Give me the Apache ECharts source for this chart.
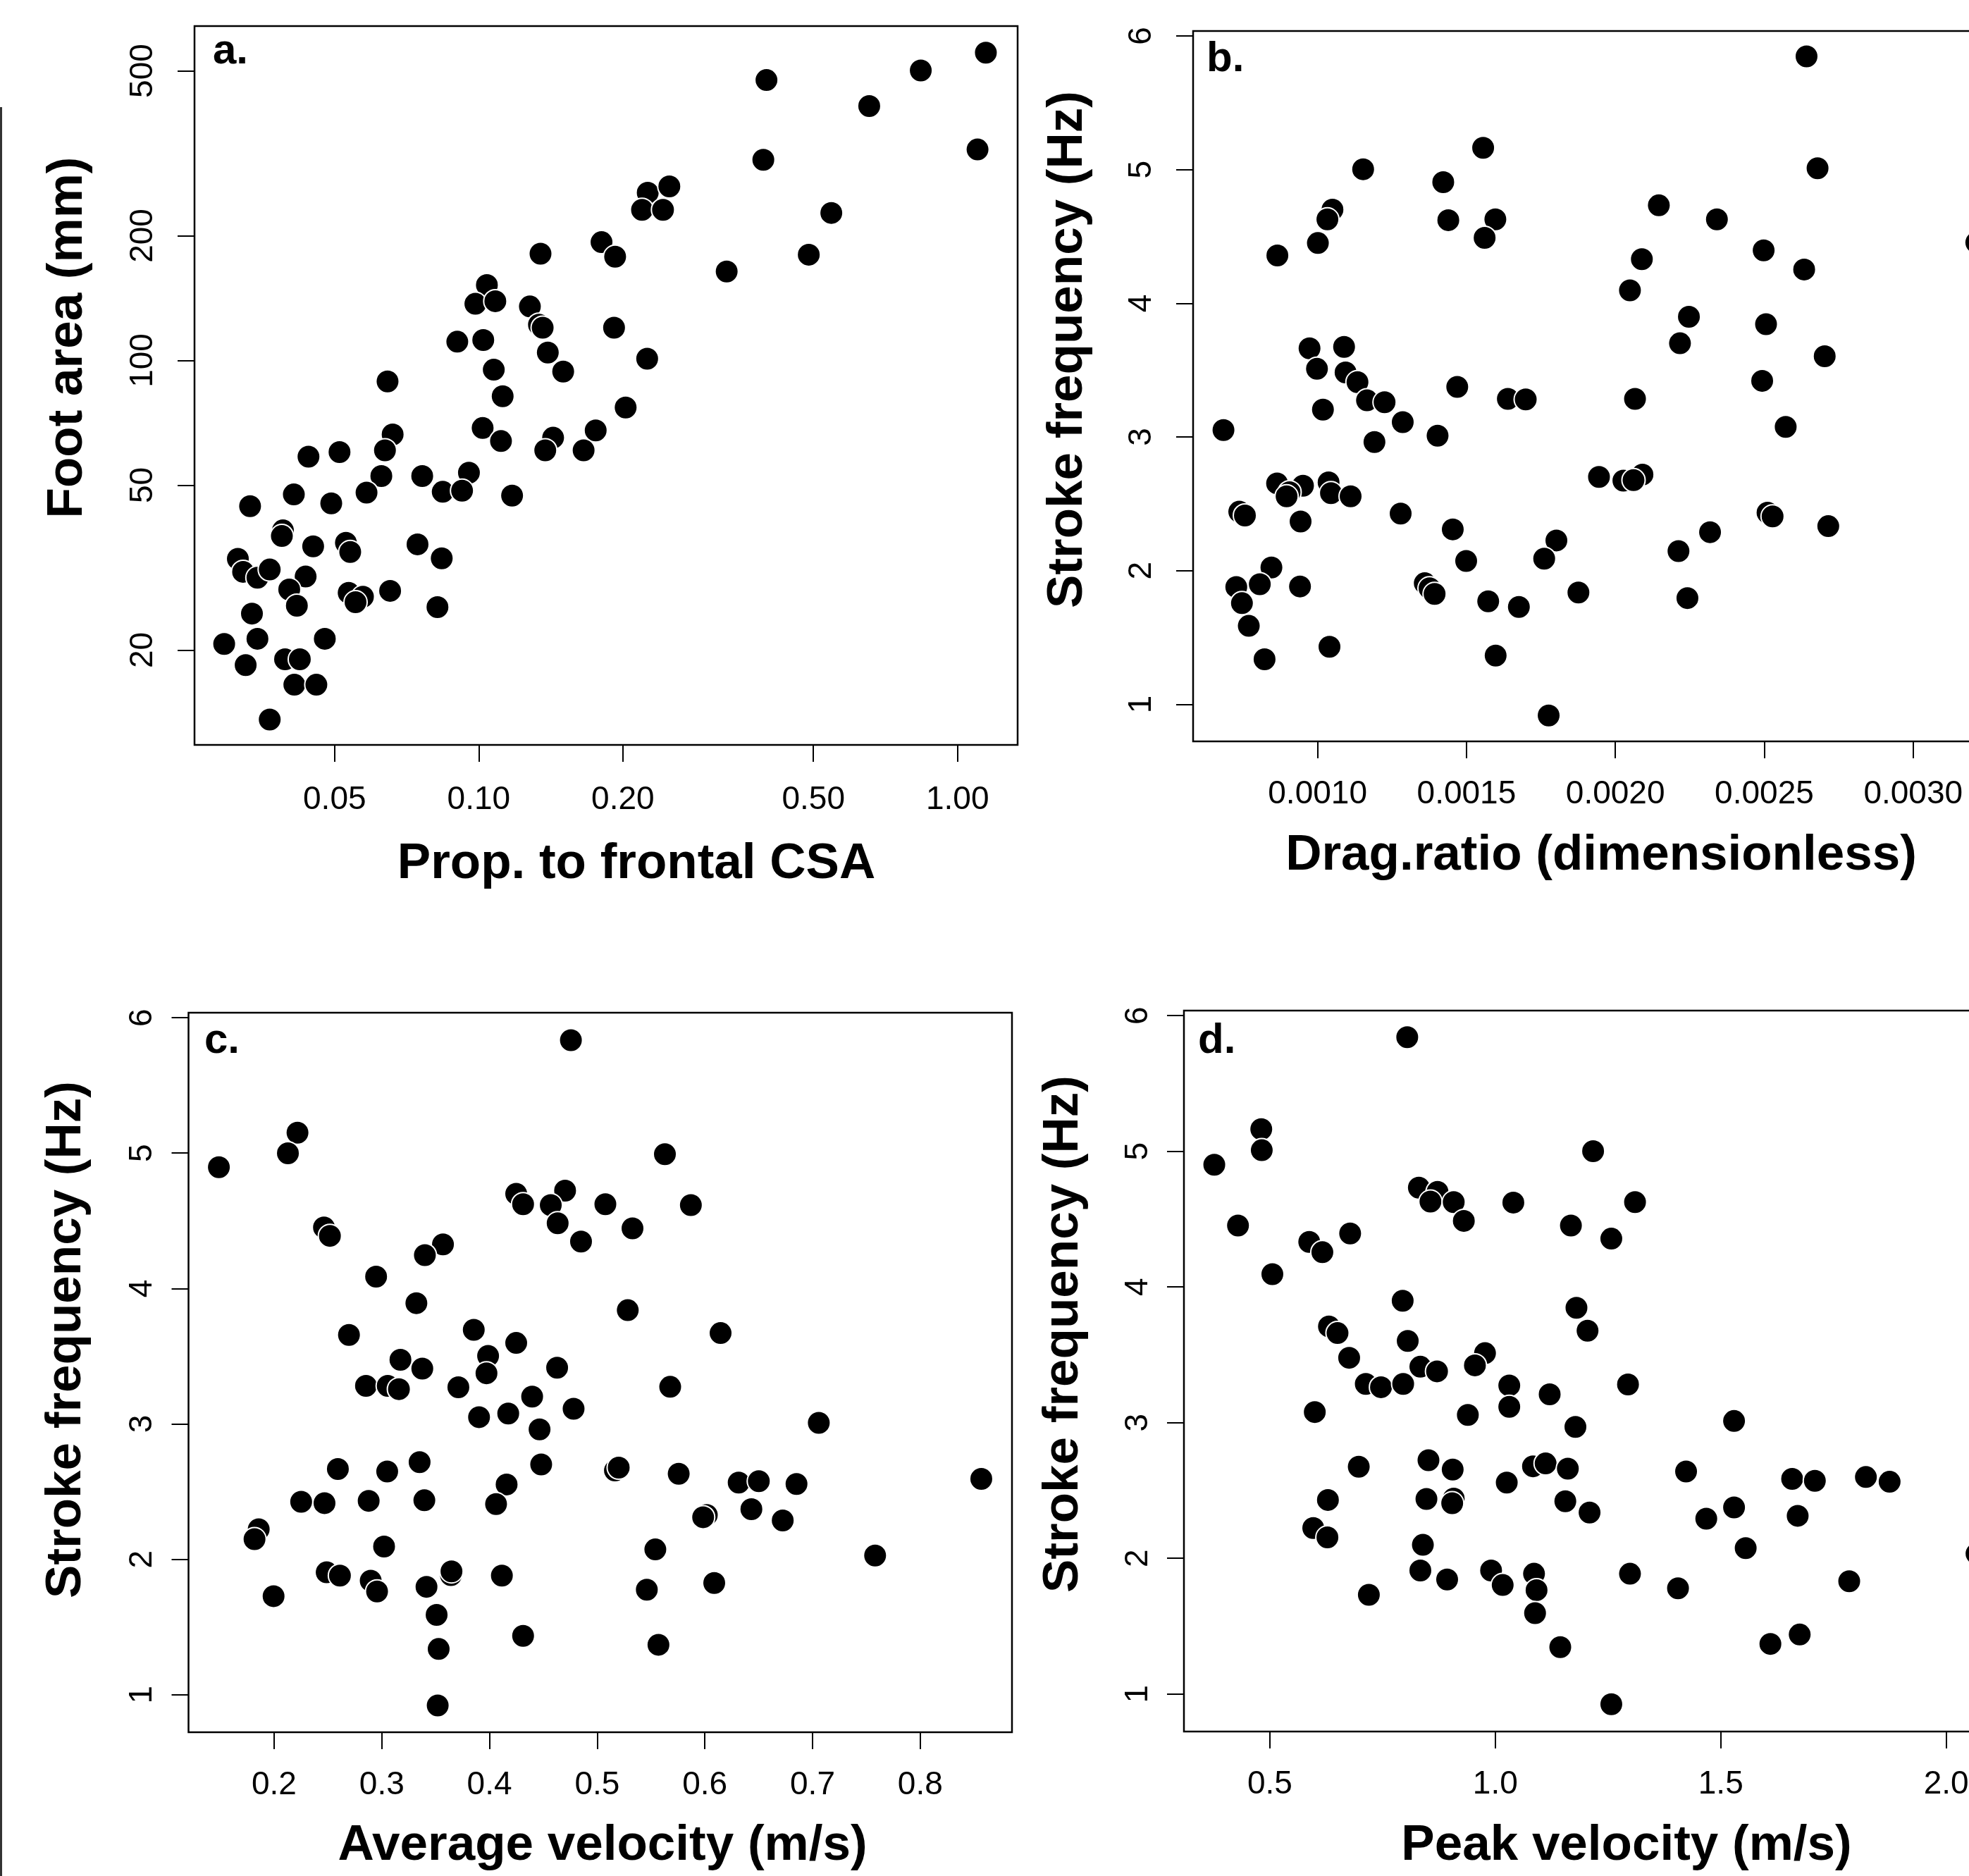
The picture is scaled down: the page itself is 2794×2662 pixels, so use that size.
<!DOCTYPE html>
<html><head><meta charset="utf-8">
<script src="https://cdn.jsdelivr.net/npm/echarts@6/dist/echarts.min.js"></script>
<style>html,body{margin:0;padding:0;background:#fff}#c{width:2794px;height:2662px}</style>
</head><body><div id="c"></div>
<script>
// ---------- Panel a: foot area vs prop. to frontal CSA (log-log) ----------
const aX = [0.399,0.838,1.146,0.654,0.393,1.101,0.2254,0.2501,0.2193,0.2426,0.545,0.1805,0.1927,0.1346,0.489,0.3295,0.1040,0.0984,0.1083,0.1279,0.1336,0.1360,0.1917,0.0902,0.1022,0.1394,0.2248,0.1075,0.1501,0.0645,0.1122,0.2027,0.1019,0.1113,0.0661,0.0637,0.1430,0.1377,0.1755,0.1656,0.0441,0.0512,0.0762,0.0954,0.0626,0.0583,0.0841,0.0923,0.1174,0.0411,0.0492,0.0333,0.0390,0.0388,0.0451,0.0528,0.0539,0.0745,0.0837,0.0314,0.0322,0.0345,0.0366,0.0435,0.0402,0.0417,0.0535,0.0573,0.0553,0.0653,0.0820,0.0336,0.0345,0.0294,0.0326,0.0477,0.0394,0.0423,0.0412,0.0458,0.0366];
const aY = [475,501,553,411,305,323,254,263,231,231,227,193,178,181,180,164,152,137,139,135,122,120,120,111,112,104.5,101,95,94,89,82,77,68.7,63.9,66.3,60.7,65.1,60.7,67.8,60.7,58.6,60.1,52.6,53.6,52.6,48.0,48.2,48.5,47.2,47.5,45.2,44.5,38.9,37.7,35.6,36.3,34.5,36.0,33.3,33.2,30.9,29.9,31.3,30.1,28.0,25.6,27.5,26.9,26.1,27.8,25.4,24.5,21.3,20.7,18.4,21.3,19.0,19.0,16.5,16.5,13.6];

// ---------- Panel b: stroke frequency vs drag ratio ----------
const bX = [0.002642,0.001556,0.001153,0.002679,0.001422,0.001050,0.001033,0.001439,0.001597,0.001561,0.002146,0.002341,0.001001,0.000865,0.002498,0.002089,0.002634,0.003212,0.002049,0.002247,0.002506,0.002217,0.002703,0.000973,0.001089,0.000998,0.001094,0.001134,0.002493,0.001469,0.001166,0.001225,0.001639,0.001699,0.002066,0.001018,0.001286,0.000684,0.001403,0.001191,0.002572,0.001945,0.002027,0.002091,0.002061,0.000864,0.000951,0.000906,0.000896,0.001037,0.001045,0.001111,0.000737,0.000756,0.001279,0.000943,0.002511,0.002528,0.002715,0.001454,0.002318,0.001802,0.001761,0.002212,0.001499,0.000845,0.000727,0.000806,0.000941,0.001360,0.001376,0.001393,0.000746,0.001573,0.001676,0.001876,0.002242,0.000769,0.001040,0.000822,0.001598,0.001776];
const bY = [5.847,5.163,5.003,5.010,4.906,4.701,4.628,4.622,4.628,4.490,4.733,4.628,4.451,4.358,4.396,4.330,4.253,4.455,4.097,3.899,3.844,3.701,3.604,3.663,3.674,3.510,3.483,3.410,3.420,3.375,3.274,3.260,3.285,3.281,3.285,3.205,3.111,3.052,3.010,2.962,3.076,2.701,2.674,2.719,2.677,2.653,2.635,2.587,2.556,2.660,2.580,2.556,2.441,2.413,2.427,2.368,2.434,2.406,2.333,2.309,2.288,2.226,2.090,2.146,2.073,2.024,1.878,1.899,1.882,1.906,1.868,1.826,1.757,1.771,1.729,1.837,1.795,1.587,1.431,1.337,1.365,0.917];

// ---------- Panel c: stroke frequency vs average velocity ----------
const cX = [0.4756,0.2217,0.2128,0.1487,0.5629,0.4248,0.4312,0.4702,0.4569,0.4633,0.5076,0.5870,0.5328,0.4850,0.2463,0.2518,0.3568,0.3400,0.2947,0.3321,0.5284,0.6146,0.2695,0.3854,0.4248,0.3173,0.3376,0.3987,0.3972,0.4628,0.2853,0.3055,0.3159,0.3711,0.4396,0.5678,0.3903,0.4174,0.4781,0.4465,0.7058,0.2592,0.3050,0.3351,0.4480,0.5165,0.5200,0.5757,0.6314,0.6501,0.6851,0.8567,0.2251,0.2468,0.2878,0.3395,0.4159,0.4061,0.6018,0.5984,0.6432,0.6723,0.1857,0.1818,0.3021,0.5540,0.7581,0.2488,0.2611,0.2897,0.2956,0.3415,0.3642,0.3647,0.4115,0.5461,0.6087,0.1995,0.3509,0.4312,0.3528,0.5569,0.3519];
const cY = [5.834,5.151,4.999,4.896,4.992,4.699,4.623,4.723,4.616,4.482,4.623,4.616,4.444,4.347,4.451,4.389,4.326,4.247,4.088,3.892,3.840,3.671,3.657,3.695,3.598,3.474,3.409,3.502,3.374,3.415,3.281,3.281,3.257,3.271,3.202,3.274,3.050,3.077,3.112,2.960,3.008,2.667,2.649,2.718,2.701,2.656,2.677,2.632,2.567,2.577,2.556,2.594,2.425,2.415,2.432,2.436,2.553,2.408,2.328,2.311,2.370,2.287,2.222,2.149,2.094,2.073,2.028,1.904,1.880,1.842,1.763,1.797,1.883,1.911,1.880,1.776,1.825,1.728,1.590,1.435,1.338,1.369,0.921];

// ---------- Panel d: stroke frequency vs peak velocity ----------
const dX = [0.8047,0.4810,0.4821,0.3768,1.2169,0.8305,0.8719,0.8562,0.9078,0.9302,1.0400,1.3099,1.1677,1.2573,0.4294,0.5874,0.6165,0.6781,0.5056,0.7946,1.1800,1.2046,0.6311,0.6501,0.8058,0.6759,0.9772,0.9548,0.8338,0.8708,0.7128,0.7465,0.7957,1.0310,1.2943,1.1206,1.0310,0.9391,1.1777,0.5997,1.5295,0.6972,0.8518,0.9055,1.0254,1.0836,1.1116,1.1609,1.4231,1.6583,1.7087,1.8219,1.8745,0.6288,0.8473,0.9078,0.9044,1.1553,1.2091,1.4679,1.5295,1.6706,0.5963,0.6277,0.8394,1.5553,2.0672,0.8338,0.8932,0.9907,1.0164,1.0859,1.0915,1.0882,1.2987,1.4052,1.7849,0.7196,1.1441,1.6101,1.6751,1.2573];
const dY = [5.841,5.163,5.008,4.901,5.001,4.732,4.701,4.629,4.625,4.487,4.622,4.625,4.453,4.356,4.453,4.332,4.256,4.394,4.094,3.898,3.846,3.677,3.709,3.660,3.602,3.478,3.512,3.422,3.412,3.378,3.285,3.261,3.285,3.274,3.281,3.209,3.116,3.057,2.968,3.078,3.012,2.675,2.723,2.654,2.558,2.678,2.699,2.661,2.640,2.585,2.571,2.599,2.564,2.430,2.437,2.440,2.406,2.420,2.337,2.292,2.375,2.313,2.223,2.154,2.099,2.075,2.034,1.910,1.844,1.910,1.803,1.886,1.765,1.596,1.886,1.779,1.831,1.731,1.345,1.369,1.438,0.924];

// ---------- tick values and texts ----------
const aXTicks = [0.05, 0.10, 0.20, 0.50, 1.00];
const aYTicks = [20, 50, 100, 200, 500];
const bXTicks = [0.0010, 0.0015, 0.0020, 0.0025, 0.0030];
const cXTicks = [0.2, 0.3, 0.4, 0.5, 0.6, 0.7, 0.8];
const dXTicks = [0.5, 1.0, 1.5, 2.0];
const freqTicks = [1, 2, 3, 4, 5, 6];
const panelLetters = ['a.', 'b.', 'c.', 'd.'];
const xTitles = ['Prop. to frontal CSA', 'Drag.ratio (dimensionless)', 'Average velocity (m/s)', 'Peak velocity (m/s)'];
const yTitles = ['Foot area (mm)', 'Stroke frequency (Hz)', 'Stroke frequency (Hz)', 'Stroke frequency (Hz)'];

const FONT = '"Liberation Sans", Arial, Helvetica, sans-serif';
const zip = (xs, ys) => xs.map((x, i) => [x, ys[i]]);

const grids = [
  {left: 276, top: 37, width: 1168, height: 1020},
  {left: 1693, top: 44, width: 1154, height: 1008},
  {left: 267.5, top: 1437, width: 1168.5, height: 1021},
  {left: 1680, top: 1434, width: 1161, height: 1023}
].map(g => Object.assign({show: true, borderColor: '#000', borderWidth: 2.5, backgroundColor: 'rgba(0,0,0,0)',
  containLabel: false, outerBoundsMode: 'none'}, g));

function mkAxis(gi, type, min, max, ticks, fmt, margin, isY) {
  const ax = {
    gridIndex: gi, type: type, min: min, max: max,
    axisLine: {show: false},
    splitLine: {show: false},
    minorTick: {show: false},
    axisTick: {show: true, inside: false, length: 24, lineStyle: {color: '#000', width: 2}, customValues: ticks},
    axisLabel: {show: true, customValues: ticks, formatter: fmt, margin: margin, color: '#000',
      fontSize: 46, fontFamily: FONT, hideOverlap: false}
  };
  if (type === 'log') ax.logBase = 10;
  if (isY) ax.axisLabel.rotate = 90;
  return ax;
}
const f2 = v => Number(v).toFixed(2);
const f4 = v => Number(v).toFixed(4);
const f1 = v => Number(v).toFixed(1);
const f0 = v => String(Math.round(Number(v)));

const xAxes = [
  mkAxis(0, 'log', 0.02549, 1.3351, aXTicks, f2, 55, false),
  mkAxis(1, 'value', 0.000582, 0.003313, bXTicks, f4, 52, false),
  mkAxis(2, 'value', 0.1205, 0.8852, cXTicks, f1, 52, false),
  mkAxis(3, 'value', 0.3095, 2.124, dXTicks, f1, 52, false)
];
const yAxes = [
  mkAxis(0, 'log', 11.81, 641.2, aYTicks, f0, 50, true),
  mkAxis(1, 'value', 0.723, 6.037, freqTicks, f0, 50, true),
  mkAxis(2, 'value', 0.723, 6.037, freqTicks, f0, 42, true),
  mkAxis(3, 'value', 0.723, 6.037, freqTicks, f0, 42, true)
];

const seriesData = [zip(aX, aY), zip(bX, bY), zip(cX, cY), zip(dX, dY)];
const series = seriesData.map((d, i) => ({
  type: 'scatter', xAxisIndex: i, yAxisIndex: i, data: d,
  symbol: 'circle', symbolSize: 33, silent: true, clip: false,
  itemStyle: {color: '#000', borderColor: '#fff', borderWidth: 2, opacity: 1},
  emphasis: {disabled: true}
}));

// titles and panel letters (positions in px)
const xTitlePos = [[903, 1226], [2272, 1214], [855, 2619], [2308, 2619]];
const yTitlePos = [[96, 479], [1515, 496], [94, 1901], [1509, 1893]];
const letterPos = [[302, 73.5], [1712, 84.5], [290, 1477], [1700, 1477]];
const graphics = [];
xTitles.forEach((t, i) => graphics.push({type: 'text', x: xTitlePos[i][0], y: xTitlePos[i][1],
  style: {text: t, font: 'bold 71px ' + FONT, fill: '#000', textAlign: 'center', textVerticalAlign: 'middle'}}));
yTitles.forEach((t, i) => graphics.push({type: 'text', x: yTitlePos[i][0], y: yTitlePos[i][1], rotation: Math.PI / 2,
  style: {text: t, font: 'bold 71px ' + FONT, fill: '#000', textAlign: 'center', textVerticalAlign: 'middle'}}));
panelLetters.forEach((t, i) => graphics.push({type: 'text', x: letterPos[i][0], y: letterPos[i][1],
  style: {text: t, font: 'bold 60px ' + FONT, fill: '#000', textAlign: 'left', textVerticalAlign: 'middle'}}));
graphics.push({type: 'line', shape: {x1: 1.5, y1: 152, x2: 1.5, y2: 2662}, style: {stroke: '#333', lineWidth: 3}});

const chart = echarts.init(document.getElementById('c'), null, {renderer: 'canvas', width: 2794, height: 2662});
chart.setOption({
  animation: false,
  backgroundColor: '#fff',
  grid: grids, xAxis: xAxes, yAxis: yAxes, series: series,
  graphic: {elements: graphics}
});
</script></body></html>
